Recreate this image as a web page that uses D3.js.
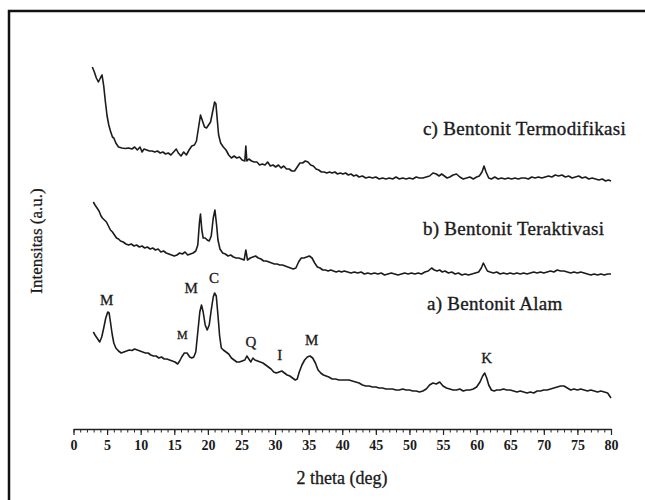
<!DOCTYPE html>
<html>
<head>
<meta charset="utf-8">
<script src="https://cdn.jsdelivr.net/npm/d3@7/dist/d3.min.js"></script>
<style>
  html, body { margin: 0; padding: 0; background: #ffffff; }
  svg { display: block; }
  text { font-family: "Liberation Serif", "Times New Roman", serif; fill: #1a1a1a; }
</style>
</head>
<body>
<svg id="chart" width="645" height="500"></svg>
<script>
// 2θ (deg) / intensity (a.u., stacked) for each diffractogram
const bentonitTermodifikasi = [
  [2.8,362],[3.1,357],[3.4,351],[3.7,347],[4.0,351],[4.25,354],[4.5,343],[4.75,327],[5.0,313],[5.25,304],
  [5.5,298],[5.8,292],[6.0,291],[6.3,286],[6.7,282],[7.2,281],[7.7,280.5],[8.2,281],[8.7,280],[9.1,282],
  [9.5,279],[9.9,282],[10.2,277],[10.5,280],[10.9,279],[11.3,278],[11.7,278],[12.1,277],[12.5,278],[12.9,276],
  [13.3,277],[13.7,275],[14.1,276],[14.5,274],[14.9,277],[15.3,280],[15.6,276],[16.0,273],[16.4,277],[16.8,274],
  [17.2,279],[17.6,283],[18.0,284],[18.3,288],[18.6,301],[18.9,314],[19.2,308],[19.5,302],[19.8,301],[20.1,304],
  [20.4,307],[20.7,317],[21.0,327],[21.2,325],[21.4,309],[21.6,294],[21.9,286],[22.3,282],[22.7,279],[23.1,274],
  [23.5,271],[23.9,273],[24.3,271],[24.7,272],[25.1,269],[25.5,268],[25.65,283],[25.8,268],[26.1,270],[26.5,268],
  [26.9,267],[27.3,267],[27.7,264],[28.1,265],[28.5,264],[28.9,267],[29.3,263],[29.7,264],[30.1,262],[30.5,264],
  [30.9,261],[31.3,263],[31.7,260],[32.1,260],[32.5,258],[32.9,258],[33.3,262],[33.7,266],[34.1,266],[34.5,268],
  [34.9,267],[35.3,264],[35.7,263],[36.1,260],[36.5,259],[36.9,257],[37.3,257],[37.7,256],[38.1,257],[38.5,256],
  [38.9,257],[39.3,255],[39.7,256],[40.1,255],[40.5,256],[40.9,254],[41.3,255],[41.7,253],[42.1,254],[42.5,252],
  [43.0,253],[43.5,251],[44.0,252],[44.5,251],[45.0,252],[45.5,250],[46.0,251],[46.5,250],[47.0,251],[47.5,250],
  [48.0,252],[48.5,250],[49.0,251],[49.5,250],[50.0,251],[50.5,250],[51.0,252],[51.5,251],[52.0,251],[52.5,252],
  [53.0,253],[53.5,256],[54.0,255],[54.4,253],[54.8,255],[55.2,253],[55.6,251],[56.0,252],[56.5,254],[57.0,255],
  [57.5,252],[58.0,250],[58.5,251],[59.0,252],[59.5,250],[60.0,252],[60.4,253],[60.8,257],[61.1,263],[61.4,257],
  [61.8,251],[62.2,250],[62.7,252],[63.2,250],[63.7,251],[64.2,250],[64.7,251],[65.2,250],[65.7,251],[66.2,250],
  [66.7,251],[67.2,251],[67.7,250],[68.2,252],[68.7,251],[69.2,252],[69.7,251],[70.2,252],[70.7,253],[71.2,252],
  [71.7,254],[72.2,253],[72.7,254],[73.2,252],[73.7,253],[74.2,251],[74.7,252],[75.2,253],[75.7,251],[76.2,252],
  [76.7,250],[77.2,251],[77.7,250],[78.2,249],[78.7,250],[79.2,248],[79.6,249],[80.0,248]
];

const bentonitTeraktivasi = [
  [2.95,227],[3.2,224],[3.5,221],[3.8,218],[4.1,213],[4.3,211],[4.6,209],[4.9,207],[5.2,203],[5.5,199],
  [5.8,197],[6.1,194],[6.4,191],[6.7,190],[7.0,188],[7.4,187],[7.8,185],[8.2,184],[8.6,185],[9.0,183],
  [9.4,184],[9.8,182],[10.2,183],[10.6,181],[11.0,182],[11.4,180],[11.8,181],[12.2,179],[12.6,180],[13.0,177],
  [13.4,178],[13.8,176],[14.2,175],[14.6,174],[15.0,173],[15.4,174],[15.8,176],[16.2,175],[16.6,177],[17.0,174],
  [17.4,175],[17.8,176],[18.2,178],[18.5,184],[18.75,207],[18.9,215],[19.1,199],[19.3,191],[19.6,191],[19.9,189],
  [20.2,188],[20.5,193],[20.8,211],[21.05,219],[21.3,204],[21.5,189],[21.8,180],[22.2,176],[22.6,175],[23.0,173],
  [23.4,174],[23.8,172],[24.2,171],[24.6,171],[25.0,170],[25.4,169],[25.65,179],[25.9,169],[26.3,171],[26.7,172],
  [27.1,173],[27.5,171],[27.9,170],[28.3,168],[28.7,168],[29.1,167],[29.5,166],[29.9,165],[30.3,165],[30.7,164],
  [31.1,164],[31.5,163],[31.9,162],[32.3,161],[32.7,160],[33.1,161],[33.5,167],[33.9,171],[34.3,171],[34.7,172],
  [35.1,173],[35.5,171],[35.9,166],[36.3,162],[36.7,161],[37.1,159],[37.5,159],[37.9,158],[38.3,159],[38.7,158],
  [39.1,157],[39.5,158],[39.9,157],[40.3,158],[40.8,157],[41.3,156],[41.8,157],[42.3,156],[42.8,157],[43.3,155],
  [43.8,156],[44.3,155],[44.8,156],[45.3,155],[45.8,156],[46.3,154],[46.8,155],[47.3,156],[47.8,155],[48.3,154],
  [48.8,155],[49.3,156],[49.8,155],[50.3,156],[50.8,155],[51.3,156],[51.8,155],[52.3,157],[52.8,158],[53.3,161],
  [53.7,159],[54.1,158],[54.5,159],[54.9,157],[55.3,158],[55.8,156],[56.3,157],[56.8,155],[57.3,156],[57.8,154],
  [58.3,155],[58.8,154],[59.3,155],[59.8,156],[60.3,157],[60.7,161],[61.0,166],[61.3,162],[61.6,158],[62.0,157],
  [62.5,156],[63.0,157],[63.5,155],[64.0,156],[64.5,155],[65.0,156],[65.5,155],[66.0,156],[66.5,155],[67.0,156],
  [67.5,155],[68.0,156],[68.5,157],[69.0,156],[69.5,157],[70.0,156],[70.5,157],[71.0,158],[71.5,157],[72.0,159],
  [72.5,158],[73.0,158],[73.5,157],[74.0,156],[74.5,157],[75.0,156],[75.5,157],[76.0,156],[76.5,155],[77.0,154],
  [77.5,155],[78.0,154],[78.5,155],[79.0,154],[79.5,155],[80.0,155]
];

const bentonitAlam = [
  [2.95,97],[3.2,94],[3.5,91],[3.9,87],[4.2,92],[4.5,101],[4.8,111],[5.1,117],[5.3,116],[5.5,107],
  [5.75,95],[6.0,86],[6.3,81],[6.7,78],[7.1,76],[7.5,77],[7.9,78],[8.3,79],[8.7,78.5],[9.1,80],
  [9.5,79],[9.9,78],[10.3,77],[10.7,76],[11.1,76],[11.5,74],[11.9,73],[12.3,73],[12.7,71],[13.1,72],
  [13.5,70],[13.9,70],[14.3,69],[14.7,68],[15.1,67],[15.5,65],[15.8,68],[16.1,72],[16.5,76],[16.9,76],
  [17.3,72],[17.6,71],[17.9,72],[18.2,77],[18.5,97],[18.8,117],[19.05,124],[19.3,117],[19.6,104],[19.9,99],
  [20.2,104],[20.5,119],[20.8,132],[21.0,136],[21.25,133],[21.5,114],[21.75,93],[22.0,81],[22.3,79],[22.7,77],
  [23.1,75],[23.5,71],[23.9,69],[24.3,67],[24.7,67],[25.1,68],[25.5,69],[25.8,73],[26.1,70],[26.4,67],
  [26.7,71],[27.0,69],[27.4,68],[27.8,67],[28.2,66],[28.6,64],[29.0,62],[29.4,60],[29.8,57],[30.2,56],
  [30.6,57],[31.0,58],[31.4,56],[31.8,54],[32.2,53],[32.6,51],[33.0,49],[33.3,50],[33.6,57],[34.0,64],
  [34.4,69],[34.8,72],[35.2,73],[35.6,71],[36.0,66],[36.4,59],[36.8,56],[37.2,54],[37.6,53],[38.0,52],
  [38.5,50],[39.0,50],[39.5,49],[40.0,49],[40.5,49],[41.0,49],[41.5,48],[42.0,47],[42.5,46],[43.0,44],
  [43.5,43],[44.0,43],[44.5,42],[45.0,42],[45.5,41],[46.0,41],[46.5,40],[47.0,40],[47.5,40],[48.0,39],
  [48.5,39],[49.0,40],[49.5,39],[50.0,39],[50.5,38],[51.0,38],[51.5,37],[52.0,38],[52.5,40],[53.0,44],
  [53.5,46],[54.0,45],[54.5,47],[55.0,43],[55.5,41],[56.0,40],[56.5,39],[57.0,39],[57.5,40],[58.0,38],
  [58.5,39],[59.0,39],[59.5,40],[60.0,42],[60.5,47],[60.9,53],[61.2,56],[61.5,51],[61.8,44],[62.2,39],
  [62.6,38],[63.0,39],[63.5,39],[64.0,40],[64.5,39],[65.0,39],[65.5,38],[66.0,37],[66.5,38],[67.0,37],
  [67.5,36],[68.0,37],[68.5,36],[69.0,38],[69.5,38],[70.0,39],[70.5,39],[71.0,40],[71.5,41],[72.0,42],
  [72.5,43],[73.0,43],[73.5,41],[74.0,39],[74.5,40],[75.0,39],[75.5,40],[76.0,39],[76.5,38],[77.0,39],
  [77.5,38],[78.0,37],[78.5,38],[79.0,37],[79.5,36],[79.8,33],[80.0,31]
];

// Pattern captions: text, 2θ of left edge, intensity of baseline
const seriesLabels = ["c) Bentonit Termodifikasi", "b) Bentonit Teraktivasi", "a) Bentonit Alam"];
const seriesLabelX = [52.0, 52.0, 52.6];
const seriesLabelY = [294, 194, 119];

// Phase markers on pattern a: letter, 2θ, intensity of baseline
const phaseLetters = ["M", "M", "C", "M", "Q", "I", "M", "K"];
const phaseX = [4.95, 17.5, 20.9, 16.2, 26.4, 30.7, 35.45, 61.5];
const phaseY = [124, 136, 146, 90, 82, 69, 84, 66];
const phaseSize = [15, 15, 15, 12, 15, 15, 15, 15];

const majorTicks = d3.range(0, 81, 5);
const minorTicks = d3.range(0, 81, 1);

const svg = d3.select("#chart");

// frame
svg.append("rect")
  .attr("x", 9).attr("y", 11)
  .attr("width", 700).attr("height", 600)
  .attr("fill", "#ffffff")
  .attr("stroke", "#111").attr("stroke-width", 2.5);

const x = d3.scaleLinear().domain([0, 80]).range([73.5, 611]);
const y = d3.scaleLinear().domain([0, 380]).range([429, 49]);

// x axis: minor ticks every degree, major ticks every 5 degrees
const axisY = 429;
svg.append("g")
  .attr("transform", `translate(0,${axisY})`)
  .call(d3.axisBottom(x).tickValues(minorTicks).tickSize(3.5).tickSizeOuter(0).tickFormat(""))
  .call(g => g.selectAll("line").attr("stroke", "#222").attr("stroke-width", 1))
  .call(g => g.select(".domain").attr("stroke", "#222").attr("stroke-width", 1.6));

svg.append("g")
  .attr("transform", `translate(0,${axisY})`)
  .call(d3.axisBottom(x).tickValues(majorTicks).tickSize(6).tickSizeOuter(0).tickPadding(5).tickFormat(d3.format("d")))
  .call(g => g.select(".domain").remove())
  .call(g => g.selectAll("line").attr("stroke", "#222").attr("stroke-width", 1.2))
  .call(g => g.selectAll("text")
    .attr("font-family", "Liberation Serif, serif")
    .attr("font-size", 14)
    .attr("font-weight", "bold")
    .attr("fill", "#1a1a1a"));

// axis titles
svg.append("text")
  .attr("x", 342).attr("y", 484)
  .attr("text-anchor", "middle")
  .attr("font-size", 18)
  .attr("stroke", "#1a1a1a").attr("stroke-width", 0.3)
  .text("2 theta (deg)");

svg.append("text")
  .attr("transform", "translate(42,241) rotate(-90)")
  .attr("text-anchor", "middle")
  .attr("font-size", 17)
  .attr("stroke", "#1a1a1a").attr("stroke-width", 0.3)
  .text("Intensitas (a.u.)");

// diffractograms
const line = d3.line().x(d => x(d[0])).y(d => y(d[1]));
[bentonitTermodifikasi, bentonitTeraktivasi, bentonitAlam].forEach(series => {
  svg.append("path")
    .datum(series)
    .attr("fill", "none")
    .attr("stroke", "#1c1c1c")
    .attr("stroke-width", 1.6)
    .attr("stroke-linejoin", "round")
    .attr("d", line);
});

// captions
seriesLabels.forEach((t, i) => {
  svg.append("text")
    .attr("x", x(seriesLabelX[i]))
    .attr("y", y(seriesLabelY[i]))
    .attr("font-size", 19)
    .attr("letter-spacing", 0.3)
    .attr("stroke", "#1a1a1a").attr("stroke-width", 0.35)
    .text(t);
});

// phase letters
phaseLetters.forEach((t, i) => {
  svg.append("text")
    .attr("x", x(phaseX[i]))
    .attr("y", y(phaseY[i]))
    .attr("text-anchor", "middle")
    .attr("font-size", phaseSize[i])
    .attr("stroke", "#1a1a1a").attr("stroke-width", 0.3)
    .text(t);
});
</script>
</body>
</html>
